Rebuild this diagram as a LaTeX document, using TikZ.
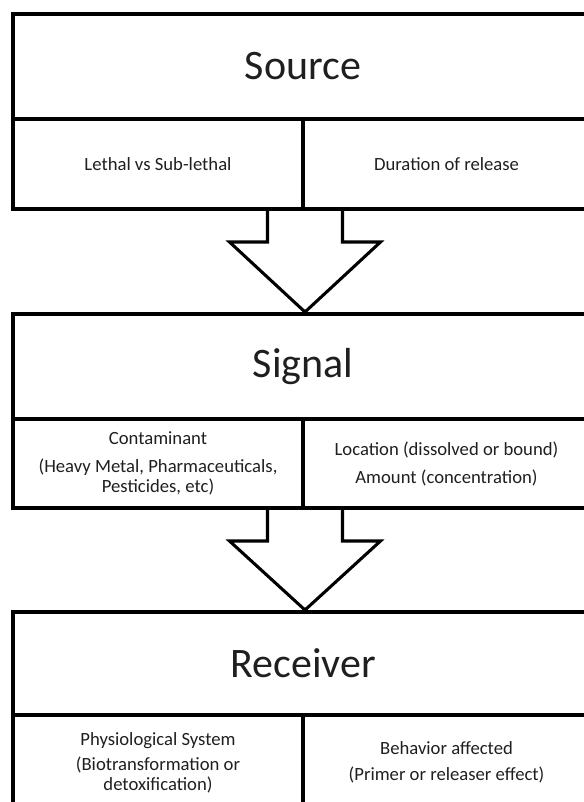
\documentclass[tikz,border=0pt]{standalone}
\usepackage{fontspec}
\setmainfont{Carlito}
\usetikzlibrary{calc}
\begin{document}
\begin{tikzpicture}[x=0.75pt,y=-0.75pt,
  cell/.style={draw=black, line width=3pt, rectangle, inner sep=0pt, align=center, text=black!88},
  titletext/.style={font=\fontsize{31.5}{38}\selectfont},
  smalltext/.style={font=\fontsize{14}{14.5}\selectfont},
  flow/.style={draw=black, line width=2.3pt, line join=miter}]
\useasboundingbox (0,0) rectangle (584,802);
\clip (0,0) rectangle (584,802);
% Source
\node[cell,titletext,minimum width={580*0.75pt},minimum height={105*0.75pt}] (srcT) at (303,66.5) {Source};
\node[cell,smalltext,minimum width={290*0.75pt},minimum height={90*0.75pt}] (srcL) at (158,164) {Lethal vs Sub-lethal};
\node[cell,smalltext,minimum width={287*0.75pt},minimum height={90*0.75pt}] (srcR) at (446.5,164) {Duration of release};
% Signal
\node[cell,titletext,minimum width={580*0.75pt},minimum height={105*0.75pt}] (sigT) at (303,366.5) {Signal};
\node[cell,smalltext,minimum width={290*0.75pt},minimum height={89*0.75pt}] (sigL) at (158,463.5) {Contaminant\\[6.5pt](Heavy Metal, Pharmaceuticals,\\Pesticides, etc)};
\node[cell,smalltext,minimum width={287*0.75pt},minimum height={89*0.75pt}] (sigR) at (446.5,463.5) {Location (dissolved or bound)\\[6.5pt]Amount (concentration)};
% Receiver
\node[cell,titletext,minimum width={580*0.75pt},minimum height={103*0.75pt}] (recT) at (303,663.5) {Receiver};
\node[cell,smalltext,minimum width={290*0.75pt},minimum height={95*0.75pt}] (recL) at (158,762.5) {Physiological System\\[4.5pt](Biotransformation or\\detoxification)};
\node[cell,smalltext,minimum width={287*0.75pt},minimum height={95*0.75pt}] (recR) at (446.5,762.5) {Behavior affected\\[5pt](Primer or releaser effect)};
% Arrows
\draw[flow] ($(srcL.south east)+(-37.5,0)$) -- ++(0,31) -- ++(-38,0)
  -- (srcL.south east |- sigT.north) -- ($(srcL.south east)+(75.5,31)$) -- ++(-38,0) -- ++(0,-31);
\draw[flow] ($(sigL.south east)+(-37.5,0)$) -- ++(0,31) -- ++(-38,0)
  -- (sigL.south east |- recT.north) -- ($(sigL.south east)+(75.5,31)$) -- ++(-38,0) -- ++(0,-31);
\end{tikzpicture}
\end{document}
